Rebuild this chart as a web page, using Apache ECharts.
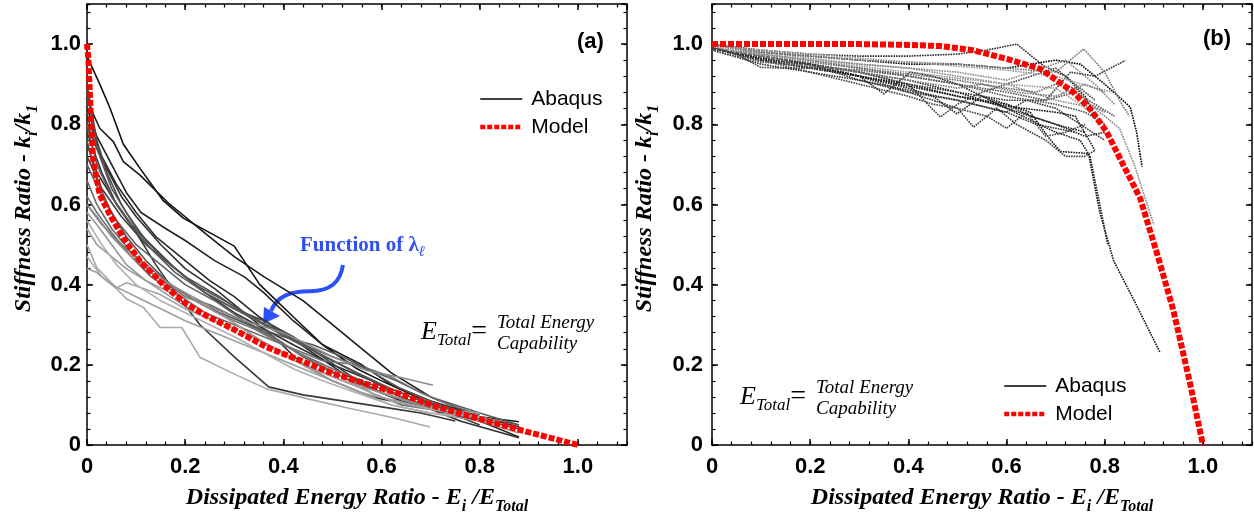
<!DOCTYPE html>
<html><head><meta charset="utf-8">
<script src="https://cdn.jsdelivr.net/npm/echarts@6/dist/echarts.min.js"></script>
<style>html,body{margin:0;padding:0;background:#fff}#c{width:1254px;height:520px}</style>
</head><body><div id="c"></div>
<script>
// ---------- DATA ----------
const tickLabels = ['0','0.2','0.4','0.6','0.8','1.0'];

// Panel (a): Abaqus curves (x = Ei/ETotal, y = ki/k1)
const abaqusA = [
 [[0,0.97],[0.026,0.9],[0.047,0.84],[0.074,0.75],[0.108,0.69],[0.155,0.61],[0.196,0.566],[0.3,0.496],[0.352,0.40],[0.42,0.32],[0.48,0.25],[0.55,0.19],[0.6,0.16],[0.68,0.115],[0.74,0.08],[0.88,0.058]],
 [[0,0.86],[0.026,0.79],[0.054,0.756],[0.074,0.707],[0.108,0.673],[0.128,0.649],[0.169,0.6],[0.244,0.525],[0.3,0.47],[0.36,0.42],[0.44,0.36],[0.5,0.30],[0.56,0.24],[0.62,0.18],[0.7,0.12],[0.8,0.07],[0.88,0.045]],
 [[0,0.84],[0.02,0.77],[0.05,0.7],[0.08,0.63],[0.11,0.58],[0.16,0.54],[0.2,0.51],[0.26,0.46],[0.32,0.42],[0.36,0.38],[0.42,0.31],[0.48,0.25],[0.56,0.2],[0.62,0.15],[0.7,0.11],[0.78,0.08]],
 [[0,0.82],[0.03,0.72],[0.06,0.65],[0.1,0.58],[0.14,0.52],[0.19,0.47],[0.25,0.41],[0.3,0.37],[0.35,0.32],[0.4,0.28],[0.46,0.23],[0.52,0.18],[0.58,0.14],[0.64,0.11],[0.7,0.09],[0.8,0.06],[0.88,0.02]],
 [[0,0.8],[0.02,0.74],[0.04,0.69],[0.07,0.62],[0.1,0.57],[0.15,0.5],[0.2,0.44],[0.26,0.39],[0.32,0.33],[0.38,0.27],[0.44,0.2],[0.5,0.16],[0.58,0.12],[0.66,0.1],[0.74,0.08]],
 [[0,0.78],[0.03,0.68],[0.06,0.6],[0.1,0.53],[0.14,0.45],[0.18,0.38],[0.23,0.3],[0.3,0.22],[0.37,0.145],[0.44,0.125],[0.52,0.11],[0.6,0.095],[0.68,0.08],[0.75,0.06]],
 [[0,0.75],[0.02,0.68],[0.05,0.62],[0.09,0.55],[0.13,0.5],[0.18,0.44],[0.24,0.38],[0.3,0.33],[0.36,0.29],[0.42,0.25],[0.5,0.2],[0.58,0.16],[0.64,0.12],[0.7,0.09],[0.76,0.06],[0.88,0.018]],
 [[0,0.72],[0.03,0.64],[0.07,0.57],[0.12,0.5],[0.18,0.44],[0.24,0.38],[0.3,0.34],[0.36,0.31],[0.42,0.27],[0.48,0.22],[0.54,0.17],[0.6,0.13],[0.68,0.1],[0.76,0.07],[0.8,0.05]],
 [[0,0.9],[0.02,0.76],[0.04,0.68],[0.07,0.6],[0.1,0.54],[0.15,0.47],[0.2,0.42],[0.27,0.37],[0.33,0.32],[0.4,0.28],[0.47,0.23],[0.55,0.18],[0.62,0.14],[0.7,0.1],[0.78,0.07],[0.88,0.04]],
 [[0,0.88],[0.02,0.74],[0.05,0.64],[0.08,0.58],[0.12,0.51],[0.17,0.45],[0.22,0.4],[0.28,0.36],[0.35,0.31],[0.42,0.26],[0.5,0.21],[0.58,0.16],[0.66,0.12],[0.74,0.09],[0.8,0.07]],
 [[0,0.8],[0.02,0.7],[0.05,0.62],[0.09,0.55],[0.13,0.49],[0.18,0.43],[0.24,0.38],[0.3,0.34],[0.36,0.3],[0.42,0.26],[0.5,0.22],[0.57,0.19],[0.63,0.16],[0.7,0.12],[0.8,0.08],[0.88,0.05]],
 [[0,0.7],[0.03,0.62],[0.06,0.56],[0.1,0.5],[0.15,0.45],[0.2,0.4],[0.26,0.36],[0.32,0.31],[0.38,0.27],[0.44,0.22],[0.5,0.18],[0.56,0.15],[0.62,0.12],[0.7,0.1],[0.78,0.08]],
 [[0,0.66],[0.02,0.6],[0.05,0.54],[0.09,0.48],[0.14,0.42],[0.2,0.37],[0.25,0.35],[0.3,0.32],[0.36,0.28],[0.43,0.23],[0.5,0.19],[0.58,0.15],[0.66,0.11],[0.74,0.08],[0.82,0.06]],
 [[0,0.62],[0.02,0.58],[0.05,0.53],[0.09,0.47],[0.13,0.42],[0.18,0.38],[0.24,0.33],[0.3,0.3],[0.36,0.27],[0.42,0.24],[0.48,0.21],[0.55,0.2],[0.62,0.17],[0.68,0.13],[0.74,0.1],[0.8,0.075]],
 [[0,0.76],[0.02,0.66],[0.05,0.58],[0.08,0.52],[0.12,0.46],[0.17,0.4],[0.22,0.36],[0.27,0.33],[0.33,0.3],[0.4,0.27],[0.46,0.25],[0.52,0.22],[0.57,0.19],[0.64,0.14],[0.72,0.1],[0.8,0.07],[0.88,0.05]],
 [[0,0.6],[0.03,0.55],[0.07,0.5],[0.11,0.46],[0.16,0.41],[0.22,0.36],[0.28,0.32],[0.34,0.29],[0.4,0.25],[0.46,0.21],[0.52,0.17],[0.58,0.13],[0.64,0.1],[0.72,0.085],[0.8,0.07]],
 [[0,0.6],[0.02,0.57],[0.05,0.52],[0.09,0.47],[0.14,0.42],[0.2,0.38],[0.26,0.34],[0.32,0.31],[0.4,0.28],[0.45,0.25],[0.5,0.22],[0.57,0.186],[0.637,0.169],[0.705,0.149]],
 [[0,0.58],[0.02,0.55],[0.05,0.5],[0.08,0.45],[0.12,0.41],[0.17,0.37],[0.22,0.33],[0.28,0.3],[0.34,0.27],[0.4,0.23],[0.46,0.19],[0.52,0.16],[0.6,0.13],[0.68,0.1],[0.76,0.08],[0.84,0.06]],
 [[0,0.54],[0.02,0.5],[0.05,0.47],[0.08,0.44],[0.12,0.41],[0.17,0.38],[0.22,0.36],[0.28,0.32],[0.33,0.28],[0.38,0.24],[0.44,0.2],[0.5,0.16],[0.56,0.13],[0.63,0.11],[0.7,0.09],[0.8,0.08]],
 [[0,0.5],[0.02,0.442],[0.06,0.392],[0.081,0.405],[0.148,0.376],[0.2,0.34],[0.26,0.31],[0.32,0.28],[0.38,0.24],[0.44,0.2],[0.5,0.17],[0.56,0.14],[0.62,0.11],[0.7,0.09],[0.78,0.07]],
 [[0,0.47],[0.03,0.42],[0.06,0.39],[0.081,0.364],[0.115,0.343],[0.149,0.293],[0.193,0.293],[0.23,0.219],[0.298,0.178],[0.366,0.14],[0.461,0.112],[0.536,0.091],[0.617,0.07],[0.699,0.045]],
 [[0,0.44],[0.02,0.43],[0.05,0.4],[0.1,0.37],[0.15,0.34],[0.2,0.31],[0.26,0.28],[0.32,0.25],[0.38,0.22],[0.44,0.19],[0.5,0.16],[0.56,0.13],[0.62,0.1],[0.7,0.08],[0.8,0.06],[0.88,0.03]],
 [[0,0.56],[0.03,0.5],[0.06,0.45],[0.1,0.4],[0.15,0.36],[0.2,0.33],[0.25,0.3],[0.3,0.27],[0.36,0.23],[0.42,0.19],[0.48,0.16],[0.55,0.13],[0.62,0.1],[0.7,0.08],[0.8,0.07]]
];
const abaqusAColors = ['#111','#1a1a1a','#222','#2a2a2a','#303030','#383838','#2e2e2e','#404040',
 '#4a4a4a','#555','#5c5c5c','#626262','#6a6a6a','#707070','#585858','#777',
 '#8a8a8a','#959595','#9a9a9a','#a5a5a5','#aaa','#9e9e9e','#b0b0b0'];

const modelA = [[0,1.0],[0.003,0.96],[0.006,0.87],[0.01,0.764],[0.013,0.707],[0.026,0.624],[0.047,0.574],[0.074,0.516],[0.108,0.459],[0.155,0.4],[0.203,0.351],[0.25,0.318],[0.298,0.289],[0.366,0.244],[0.434,0.211],[0.502,0.178],[0.57,0.152],[0.637,0.128],[0.705,0.098],[0.807,0.062],[0.909,0.029],[1.0,0.0]];

// Panel (b): Abaqus curves
const abaqusB = [
 [[0,0.99],[0.1,0.96],[0.2,0.94],[0.3,0.92],[0.4,0.9],[0.5,0.87],[0.6,0.85],[0.648,0.83],[0.69,0.76],[0.71,0.732],[0.767,0.727],[0.79,0.58],[0.818,0.46],[0.86,0.36],[0.913,0.23]],
 [[0,0.99],[0.1,0.965],[0.2,0.95],[0.3,0.93],[0.4,0.91],[0.5,0.88],[0.6,0.84],[0.7,0.78],[0.75,0.76],[0.77,0.72],[0.79,0.6],[0.806,0.5]],
 [[0,1.0],[0.1,0.98],[0.2,0.97],[0.3,0.96],[0.4,0.95],[0.5,0.95],[0.6,0.94],[0.7,0.96],[0.75,0.95],[0.8,0.9],[0.852,0.843],[0.865,0.78],[0.876,0.694]],
 [[0,0.99],[0.1,0.97],[0.2,0.95],[0.3,0.93],[0.4,0.9],[0.5,0.88],[0.6,0.86],[0.68,0.86],[0.73,0.93],[0.78,0.92],[0.842,0.959]],
 [[0,1.0],[0.1,0.985],[0.2,0.975],[0.3,0.97],[0.4,0.97],[0.5,0.975],[0.56,0.985],[0.621,1.0],[0.675,0.946],[0.72,0.92],[0.76,0.87],[0.78,0.82]],
 [[0,0.99],[0.05,0.98],[0.1,0.97],[0.2,0.95],[0.3,0.92],[0.35,0.876],[0.404,0.93],[0.45,0.92],[0.5,0.9],[0.55,0.87],[0.6,0.84],[0.65,0.82],[0.7,0.8],[0.76,0.78]],
 [[0,0.995],[0.05,0.975],[0.099,0.942],[0.15,0.94],[0.247,0.94],[0.3,0.93],[0.4,0.9],[0.465,0.818],[0.5,0.85],[0.55,0.88],[0.6,0.9],[0.65,0.92],[0.7,0.94],[0.74,0.9],[0.78,0.86]],
 [[0,0.99],[0.1,0.96],[0.2,0.94],[0.3,0.92],[0.4,0.89],[0.45,0.87],[0.499,0.826],[0.55,0.87],[0.6,0.85],[0.65,0.82],[0.7,0.8],[0.76,0.77],[0.8,0.78]],
 [[0,0.99],[0.1,0.97],[0.2,0.95],[0.3,0.92],[0.4,0.88],[0.5,0.84],[0.533,0.793],[0.58,0.84],[0.62,0.8],[0.68,0.76],[0.72,0.72],[0.76,0.72],[0.78,0.735]],
 [[0,0.995],[0.1,0.98],[0.2,0.965],[0.3,0.95],[0.4,0.94],[0.5,0.92],[0.6,0.9],[0.7,0.86],[0.78,0.84],[0.83,0.79],[0.86,0.7],[0.9,0.55]],
 [[0,1.0],[0.1,0.98],[0.2,0.97],[0.3,0.96],[0.4,0.955],[0.5,0.95],[0.6,0.94],[0.7,0.93],[0.757,0.988],[0.8,0.93],[0.83,0.86],[0.85,0.82]],
 [[0,0.99],[0.1,0.975],[0.2,0.96],[0.3,0.94],[0.4,0.92],[0.5,0.9],[0.6,0.88],[0.68,0.86],[0.74,0.88],[0.78,0.85],[0.82,0.82]],
 [[0,0.985],[0.1,0.95],[0.15,0.94],[0.2,0.93],[0.3,0.91],[0.4,0.88],[0.5,0.86],[0.6,0.83],[0.64,0.86],[0.7,0.84],[0.75,0.8],[0.8,0.76]],
 [[0,0.99],[0.1,0.96],[0.2,0.93],[0.3,0.9],[0.4,0.87],[0.45,0.85],[0.5,0.84],[0.56,0.82],[0.6,0.79],[0.64,0.83],[0.68,0.77],[0.72,0.78],[0.76,0.8]],
 [[0,0.995],[0.1,0.985],[0.2,0.975],[0.3,0.965],[0.4,0.955],[0.5,0.945],[0.6,0.935],[0.7,0.92],[0.78,0.89],[0.82,0.88]],
 [[0,0.99],[0.1,0.97],[0.2,0.955],[0.3,0.94],[0.4,0.925],[0.5,0.91],[0.6,0.89],[0.66,0.88],[0.7,0.9],[0.74,0.89],[0.77,0.85],[0.8,0.83]],
 [[0,1.0],[0.1,0.975],[0.2,0.96],[0.3,0.95],[0.4,0.94],[0.5,0.93],[0.55,0.92],[0.6,0.91],[0.65,0.93],[0.72,0.96],[0.78,0.9],[0.82,0.85]],
 [[0,0.99],[0.1,0.965],[0.2,0.945],[0.3,0.92],[0.4,0.895],[0.5,0.87],[0.6,0.845],[0.7,0.83],[0.74,0.82],[0.78,0.735]],
 [[0,0.985],[0.1,0.955],[0.2,0.945],[0.3,0.935],[0.4,0.92],[0.5,0.9],[0.6,0.87],[0.7,0.85],[0.76,0.83],[0.8,0.8]],
 [[0,0.99],[0.1,0.97],[0.2,0.945],[0.3,0.93],[0.4,0.91],[0.5,0.89],[0.55,0.9],[0.62,0.88],[0.7,0.87],[0.76,0.9],[0.8,0.88]],
 [[0,0.995],[0.05,0.98],[0.1,0.975],[0.2,0.96],[0.3,0.945],[0.4,0.93],[0.5,0.915],[0.6,0.9],[0.7,0.89],[0.75,0.85],[0.79,0.81]],
 [[0,0.99],[0.1,0.96],[0.2,0.95],[0.3,0.91],[0.4,0.885],[0.5,0.86],[0.6,0.83],[0.66,0.8],[0.7,0.79],[0.74,0.78]]
];
const abaqusBColors = ['#111','#222','#000','#333','#2a2a2a','#222','#444','#2a2a2a','#3a3a3a',
 '#888','#777','#555','#333','#444','#999','#666','#888','#111','#555','#777','#999','#333'];

const modelB = [[0,1.0],[0.1,1.0],[0.2,1.0],[0.3,1.0],[0.4,0.998],[0.465,0.995],[0.53,0.985],[0.601,0.963],[0.669,0.938],[0.736,0.88],[0.77,0.839],[0.804,0.781],[0.838,0.698],[0.872,0.616],[0.906,0.48],[0.94,0.335],[0.974,0.153],[1.0,0.0]];

// ---------- CHART ----------
const chart = echarts.init(document.getElementById('c'), null, {renderer:'canvas'});
const SANS = 'Liberation Sans', SERIF = 'Liberation Serif';
const fmt = v => (v > 1.05 ? '' : (v === 0 ? tickLabels[0] : tickLabels[Math.round(v / 0.2)]));

const grids = [
  {left: 87, top: 4, width: 540, height: 444},
  {left: 712, top: 4, width: 540, height: 444}
];
const titleRich = {
  t: {fontFamily: SERIF, fontStyle: 'italic', fontWeight: 'bold', fontSize: 24, color: '#000', lineHeight: 34},
  s: {fontFamily: SERIF, fontStyle: 'italic', fontWeight: 'bold', fontSize: 16, color: '#000', lineHeight: 16, verticalAlign: 'bottom'}
};
const xAxes = [], yAxes = [];
[0, 1].forEach(g => {
  const base = {gridIndex: g, type: 'value', min: 0, max: 1.1, splitLine: {show: false}};
  const line = {show: true, onZero: false, lineStyle: {color: '#000', width: 1.5}};
  xAxes.push(Object.assign({}, base, {position: 'bottom', interval: 0.2, axisLine: line,
    axisTick: {inside: true, length: 6, lineStyle: {color: '#000', width: 1.5}},
    axisLabel: {formatter: fmt, fontFamily: SANS, fontWeight: 'bold', fontSize: 22, color: '#000', margin: 11, showMaxLabel: false},
    name: '{t|Dissipated Energy Ratio - E}{s|i}{t| /E}{s|Total}', nameLocation: 'middle', nameGap: 36,
    nameTextStyle: {rich: titleRich}}));
  xAxes.push(Object.assign({}, base, {position: 'bottom', interval: 0.04, axisLine: {show: false, onZero: false},
    axisTick: {inside: true, length: 3.5, lineStyle: {color: '#000', width: 1.2}}, axisLabel: {show: false}}));
  xAxes.push(Object.assign({}, base, {position: 'top', interval: 0.2, axisLine: line,
    axisTick: {inside: true, length: 6, lineStyle: {color: '#000', width: 1.5}}, axisLabel: {show: false}}));
  xAxes.push(Object.assign({}, base, {position: 'top', interval: 0.04, axisLine: {show: false, onZero: false},
    axisTick: {inside: true, length: 3.5, lineStyle: {color: '#000', width: 1.2}}, axisLabel: {show: false}}));

  yAxes.push(Object.assign({}, base, {position: 'left', interval: 0.2, axisLine: line,
    axisTick: {inside: true, length: 6, lineStyle: {color: '#000', width: 1.5}},
    axisLabel: {formatter: fmt, fontFamily: SANS, fontWeight: 'bold', fontSize: 22, color: '#000', margin: g === 0 ? 6 : 9, showMaxLabel: false},
    name: '{t|Stiffness Ratio - k}{s|i}{t|/k}{s|1}', nameLocation: 'middle', nameGap: g === 0 ? 46 : 50, nameRotate: 90,
    nameTextStyle: {rich: titleRich, padding: [0, 0, 0, 32]}}));
  yAxes.push(Object.assign({}, base, {position: 'left', interval: 0.04, axisLine: {show: false, onZero: false},
    axisTick: {inside: true, length: 3.5, lineStyle: {color: '#000', width: 1.2}}, axisLabel: {show: false}}));
  yAxes.push(Object.assign({}, base, {position: 'right', interval: 0.2, axisLine: line,
    axisTick: {inside: true, length: 6, lineStyle: {color: '#000', width: 1.5}}, axisLabel: {show: false}}));
  yAxes.push(Object.assign({}, base, {position: 'right', interval: 0.04, axisLine: {show: false, onZero: false},
    axisTick: {inside: true, length: 3.5, lineStyle: {color: '#000', width: 1.2}}, axisLabel: {show: false}}));
});

const series = [];
abaqusA.forEach((d, i) => series.push({type: 'line', name: 'Abaqus', xAxisIndex: 0, yAxisIndex: 0, data: d,
  symbol: 'none', silent: true, z: 2, lineStyle: {color: abaqusAColors[i % abaqusAColors.length], width: 1.6}}));
series.push({type: 'line', name: 'Model', xAxisIndex: 0, yAxisIndex: 0, data: modelA, symbol: 'none', silent: true, z: 5,
  lineStyle: {color: '#ff0000', width: 6, type: [6, 2]}});
abaqusB.forEach((d, i) => series.push({type: 'line', name: 'Abaqus', xAxisIndex: 4, yAxisIndex: 4, data: d,
  symbol: 'none', silent: true, z: 2, lineStyle: {color: abaqusBColors[i % abaqusBColors.length], width: 1.6, type: [1.6, 1]}}));
series.push({type: 'line', name: 'Model', xAxisIndex: 4, yAxisIndex: 4, data: modelB, symbol: 'none', silent: true, z: 5,
  lineStyle: {color: '#ff0000', width: 6, type: [6, 2]}});

const legendData = [
  {name: 'Abaqus', lineStyle: {color: '#000', width: 1.5, type: 'solid'}, itemStyle: {opacity: 0}},
  {name: 'Model', lineStyle: {color: '#ff0000', width: 4.5, type: [5, 2]}, itemStyle: {opacity: 0}}
];
const legendBase = {orient: 'vertical', itemWidth: 42, itemHeight: 14, itemGap: 6, selectedMode: false,
  textStyle: {fontFamily: SANS, fontSize: 21, color: '#000', lineHeight: 22, padding: [0, 0, 0, 4]}, data: legendData};

const blue = '#2f4ff7';
const eRich = {
  e: {fontFamily: SERIF, fontStyle: 'italic', fontSize: 26, fill: '#000', lineHeight: 34},
  s: {fontFamily: SERIF, fontStyle: 'italic', fontSize: 17, fill: '#000', lineHeight: 16, verticalAlign: 'bottom'},
  q: {fontFamily: SERIF, fontSize: 28, fill: '#000', lineHeight: 34}
};
function eTotal(x, y) {
  return [
    {type: 'text', x: x, y: y, style: {text: '{e|E}{s|Total}{q|=}', rich: eRich, align: 'left', verticalAlign: 'middle'}},
    {type: 'text', x: x + 76, y: y + 1, style: {text: 'Total Energy\nCapability', fontFamily: SERIF, fontStyle: 'italic',
      fontSize: 19, lineHeight: 21, fill: '#000', align: 'left', verticalAlign: 'middle'}}
  ];
}

chart.setOption({
  animation: false,
  grid: grids,
  xAxis: xAxes,
  yAxis: yAxes,
  legend: [
    Object.assign({}, legendBase, {left: 473, top: 83}),
    Object.assign({}, legendBase, {left: 997, top: 370})
  ],
  series: series,
  graphic: [
    {type: 'text', x: 577, y: 42, style: {text: '(a)', fontFamily: SANS, fontWeight: 'bold', fontSize: 22, fill: '#000', align: 'left', verticalAlign: 'middle'}},
    {type: 'text', x: 1203, y: 39, style: {text: '(b)', fontFamily: SANS, fontWeight: 'bold', fontSize: 22, fill: '#000', align: 'left', verticalAlign: 'middle'}},
    {type: 'text', x: 300, y: 246, style: {text: '{f|Function of λ}{s|ℓ}', align: 'left', verticalAlign: 'middle', rich: {
      f: {fontFamily: SERIF, fontWeight: 'bold', fontSize: 21, fill: blue, lineHeight: 28},
      s: {fontFamily: SERIF, fontWeight: 'bold', fontStyle: 'italic', fontSize: 15, fill: blue, lineHeight: 14, verticalAlign: 'bottom'}}}},
    {type: 'bezierCurve', shape: {x1: 343, y1: 265, cpx1: 340, cpy1: 283, cpx2: 330, cpy2: 291, x2: 310, y2: 291.3},
      style: {stroke: blue, lineWidth: 4, fill: null}},
    {type: 'bezierCurve', shape: {x1: 310, y1: 291.3, cpx1: 290, cpy1: 291.5, cpx2: 277, cpy2: 296, x2: 271, y2: 311},
      style: {stroke: blue, lineWidth: 4, fill: null}},
    {type: 'polygon', shape: {points: [[263, 324], [264, 307], [280, 316]]}, style: {fill: blue}}
  ].concat(eTotal(421, 332), eTotal(740, 397))
});
</script>
</body></html>
